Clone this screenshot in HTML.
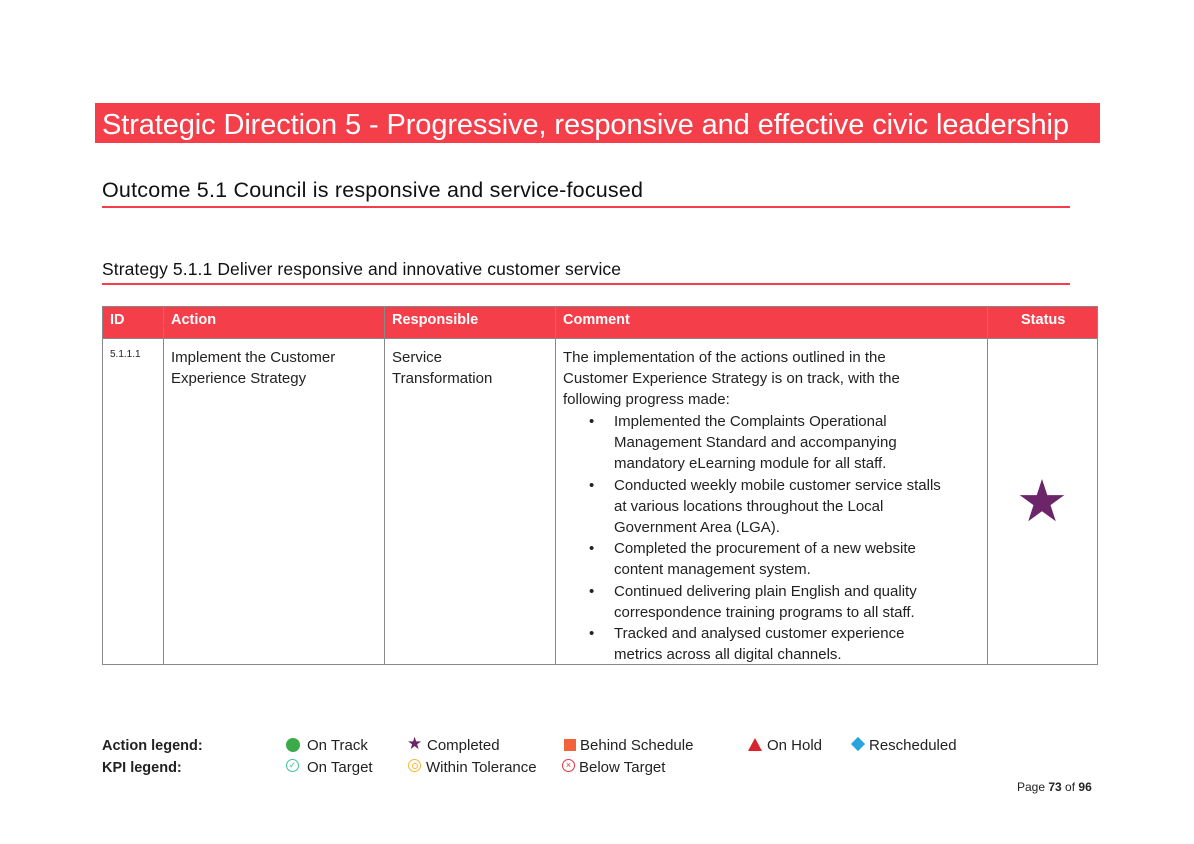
<!DOCTYPE html>
<html><head><meta charset="utf-8"><style>
body{margin:0;width:1194px;height:844px;background:#fff;position:relative;font-family:"Liberation Sans",sans-serif;color:#222;overflow:hidden}
.a{position:absolute;white-space:nowrap}
.t{font-size:15px;line-height:21.2px}
.cell{position:absolute;top:338px;height:327px;border:1px solid #888;border-top:none;box-sizing:border-box}
.hd{position:absolute;top:306px;height:33px;background:#f43e4a;border:1px solid #888;box-sizing:border-box;color:#fff;font-weight:bold;font-size:14.5px;line-height:26px;padding-left:7px}
</style></head><body>
<div class="a" style="left:95px;top:103px;width:1005px;height:40px;background:#f43e4a"></div>
<div class="a" style="left:102px;top:106px;color:#fff;font-size:29px;line-height:38px;letter-spacing:-0.1px">Strategic Direction 5 - Progressive, responsive and effective civic leadership</div>
<div class="a" style="left:102px;top:176px;font-size:21.5px;line-height:28px;color:#111;letter-spacing:0.2px">Outcome 5.1 Council is responsive and service-focused</div>
<div class="a" style="left:102px;top:206px;width:968px;height:2px;background:#f43e4a"></div>
<div class="a" style="left:102px;top:257px;font-size:17.5px;line-height:24px;color:#111;letter-spacing:0.1px">Strategy 5.1.1 Deliver responsive and innovative customer service</div>
<div class="a" style="left:102px;top:283px;width:968px;height:2px;background:#f43e4a"></div>

<div class="hd" style="left:102px;width:62px">ID</div>
<div class="hd" style="left:163px;width:222px">Action</div>
<div class="hd" style="left:384px;width:172px">Responsible</div>
<div class="hd" style="left:555px;width:433px">Comment</div>
<div class="hd" style="left:987px;width:111px;padding-left:33px">Status</div>
<div class="cell" style="left:102px;width:62px"></div>
<div class="cell" style="left:163px;width:222px"></div>
<div class="cell" style="left:384px;width:172px"></div>
<div class="cell" style="left:555px;width:433px"></div>
<div class="cell" style="left:987px;width:111px"></div>

<div class="a" style="left:110px;top:349px;font-size:10px">5.1.1.1</div>
<div class="a t" style="left:171px;top:347px">Implement the Customer<br>Experience Strategy</div>
<div class="a t" style="left:392px;top:347px">Service<br>Transformation</div>
<div class="a t" style="left:563px;top:347px">The implementation of the actions outlined in the<br>Customer Experience Strategy is on track, with the<br>following progress made:</div>
<div class="a t" style="left:589px;top:411px">•<br><br><br>•<br><br><br>•<br><br>•<br><br>•</div>
<div class="a t" style="left:614px;top:411px">Implemented the Complaints Operational<br>Management Standard and accompanying<br>mandatory eLearning module for all staff.<br>Conducted weekly mobile customer service stalls<br>at various locations throughout the Local<br>Government Area (LGA).<br>Completed the procurement of a new website<br>content management system.<br>Continued delivering plain English and quality<br>correspondence training programs to all staff.<br>Tracked and analysed customer experience<br>metrics across all digital channels.</div>
<div class="a" style="left:1016px;top:470px;font-size:58px;line-height:64px;color:#6b2568">★</div>

<div class="a" style="left:102px;top:735px;font-size:14.5px;font-weight:bold;line-height:22px">Action legend:<br>KPI legend:</div>
<div class="a" style="left:286px;top:738px;width:14px;height:14px;border-radius:50%;background:#3aaa4a"></div>
<div class="a t" style="left:307px;top:735px">On Track</div>
<div class="a" style="left:407px;top:734px;color:#6b2568;font-size:17px">★</div>
<div class="a t" style="left:427px;top:735px">Completed</div>
<div class="a" style="left:564px;top:739px;width:12px;height:12px;background:#f4623a"></div>
<div class="a t" style="left:580px;top:735px">Behind Schedule</div>
<div class="a" style="left:748px;top:738px;width:0;height:0;border-left:7px solid transparent;border-right:7px solid transparent;border-bottom:13px solid #d9232d"></div>
<div class="a t" style="left:767px;top:735px">On Hold</div>
<div class="a" style="left:853px;top:739px;width:10px;height:10px;background:#2aa2e0;transform:rotate(45deg)"></div>
<div class="a t" style="left:869px;top:735px">Rescheduled</div>
<div class="a" style="left:286px;top:759px;width:11px;height:11px;border:1.3px solid #3cc39a;border-radius:50%;font-size:9px;line-height:11px;text-align:center;color:#3cc39a">✓</div>
<div class="a t" style="left:307px;top:757px">On Target</div>
<div class="a" style="left:408px;top:759px;width:11px;height:11px;border:1.3px solid #f7b733;border-radius:50%"></div>
<div class="a" style="left:412px;top:763px;width:4px;height:4px;border:1.3px solid #f7b733;border-radius:50%"></div>
<div class="a t" style="left:426px;top:757px">Within Tolerance</div>
<div class="a" style="left:562px;top:759px;width:11px;height:11px;border:1.3px solid #e8333c;border-radius:50%;font-size:9px;line-height:11px;text-align:center;color:#e8333c">×</div>
<div class="a t" style="left:579px;top:757px">Below Target</div>
<div class="a" style="left:1017px;top:779px;font-size:12px;line-height:16px">Page <b>73</b> of <b>96</b></div>
</body></html>
